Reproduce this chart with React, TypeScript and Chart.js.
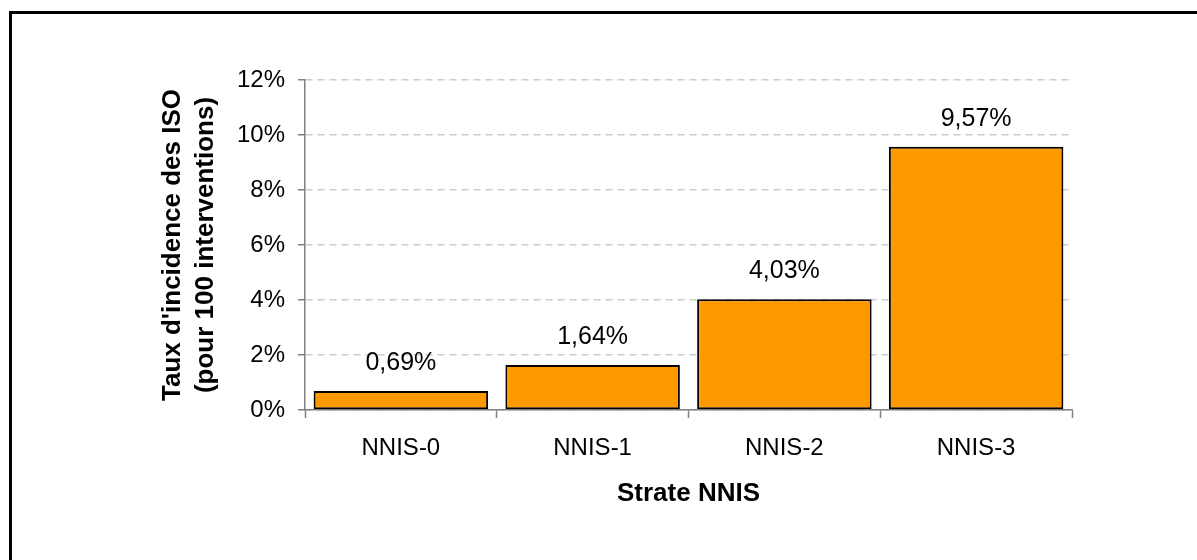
import { useEffect, useRef } from "react"
import { Chart, registerables } from "chart.js"

Chart.register(...registerables)

// Data
const strata = ["NNIS-0", "NNIS-1", "NNIS-2", "NNIS-3"]
const incidenceRates = [0.69, 1.64, 4.03, 9.57]
const yTickMax = 12
const yTickStep = 2

const FONT = "'Liberation Sans', Arial, sans-serif"

// draws the value above each bar, French decimal comma
const barLabels = {
  id: "barLabels",
  afterDatasetsDraw(chart: Chart) {
    const { ctx } = chart
    const meta = chart.getDatasetMeta(0)
    ctx.save()
    ctx.font = `25px ${FONT}`
    ctx.fillStyle = "#000000"
    ctx.textAlign = "center"
    ctx.textBaseline = "alphabetic"
    meta.data.forEach((bar: any, i: number) => {
      const text = incidenceRates[i].toFixed(2).replace(".", ",") + "%"
      ctx.fillText(text, bar.x, bar.y - 21)
    })
    ctx.restore()
  },
}

export default function App() {
  const chartRef = useRef<HTMLCanvasElement>(null)
  const chartInstance = useRef<Chart | null>(null)

  useEffect(() => {
    if (!chartRef.current) return
    const ctx = chartRef.current.getContext("2d")
    if (!ctx) return

    if (chartInstance.current) {
      chartInstance.current.destroy()
    }

    chartInstance.current = new Chart(ctx, {
      type: "bar",
      data: {
        labels: strata,
        datasets: [
          {
            data: incidenceRates,
            backgroundColor: "#ff9900",
            borderColor: "#000000",
            borderWidth: 2,
            borderSkipped: false,
            barPercentage: 0.91,
            categoryPercentage: 1,
          },
        ],
      },
      options: {
        responsive: true,
        maintainAspectRatio: false,
        animation: false,
        layout: {
          padding: { left: 152, right: 125, top: 80, bottom: 48 },
        },
        plugins: {
          legend: { display: false },
          tooltip: { enabled: false },
        },
        scales: {
          x: {
            afterFit: (s: any) => {
              s.height = 102
            },
            grid: {
              offset: true,
              drawOnChartArea: false,
              tickLength: 8,
              tickColor: "#808080",
              tickWidth: 1.5,
            },
            border: { color: "#808080", width: 1.5 },
            ticks: {
              color: "#000000",
              padding: 16,
              font: { family: FONT, size: 24 },
            },
            title: {
              display: true,
              text: "Strate NNIS",
              color: "#000000",
              padding: { top: 4, bottom: 3 },
              font: { family: FONT, size: 26, weight: "bold" },
            },
          },
          y: {
            min: 0,
            max: yTickMax,
            afterFit: (s: any) => {
              s.width = 153
            },
            grid: {
              color: "#cccccc",
              lineWidth: 1.5,
              tickLength: 7,
              tickColor: "#808080",
              tickWidth: 1.5,
              tickBorderDash: [],
            },
            border: { color: "#808080", width: 1.5, dash: [7, 5] },
            ticks: {
              stepSize: yTickStep,
              color: "#000000",
              padding: 13,
              font: { family: FONT, size: 24 },
              callback: (v: any) => `${v}%`,
            },
            title: {
              display: true,
              text: ["Taux d'incidence des ISO", "(pour 100 interventions)"],
              color: "#000000",
              padding: { top: 4, bottom: 4 },
              font: { family: FONT, size: 26, weight: "bold", lineHeight: 1.27 },
            },
          },
        },
      },
      plugins: [barLabels],
    })

    return () => {
      if (chartInstance.current) {
        chartInstance.current.destroy()
        chartInstance.current = null
      }
    }
  }, [])

  return (
    <div style={{ position: "fixed", inset: 0, overflow: "hidden", background: "#ffffff" }}>
      <div
        style={{
          position: "absolute",
          left: 9,
          top: 11,
          right: 0,
          bottom: 0,
          borderTop: "3px solid #000000",
          borderLeft: "3px solid #000000",
        }}
      />
      <div style={{ position: "absolute", left: 0, top: 0, width: 1197, height: 560 }}>
        <canvas ref={chartRef}></canvas>
      </div>
    </div>
  )
}
